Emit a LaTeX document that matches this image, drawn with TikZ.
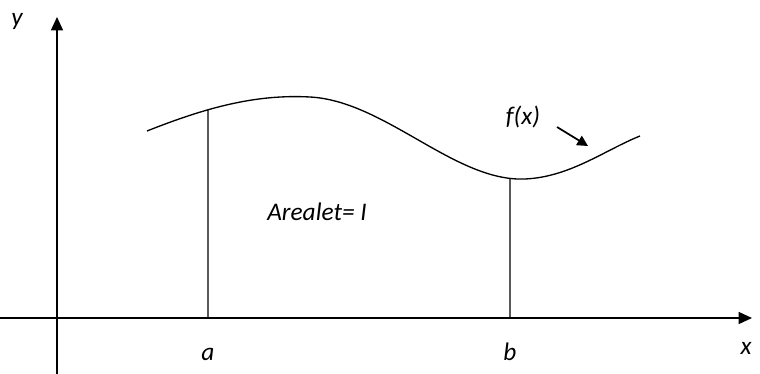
\documentclass[tikz,border=0pt]{standalone}
\usepackage{fontspec}
\setmainfont{Carlito}
\usetikzlibrary{arrows.meta,intersections}
\begin{document}
\begin{tikzpicture}[x=0.75pt,y=-0.75pt,
  axis/.style={line width=1pt,-{Triangle[length=10pt,width=9pt]}},
  lbl/.style={font=\itshape\fontsize{19}{22}\selectfont,inner sep=0pt},
  thin line/.style={line width=1pt}]
\useasboundingbox (0,0) rectangle (760,374);
% axes
\coordinate (xs) at (0,318);
\coordinate (xe) at (752,318);
\coordinate (ys) at (57,374);
\coordinate (ye) at (57,17);
\draw[axis] (xs) -- (xe);
\draw[axis] (ys) -- (ye);
% curve
\draw[thin line,name path=curve] (147,131) .. controls (205,108) and (255,94) .. (310,97)
  .. controls (385,101) and (455,182) .. (525,179)
  .. controls (570,177) and (605,150) .. (640,136);
% verticals
\path[name path=va] (208,0) -- (208,374);
\path[name path=vb] (510,0) -- (510,374);
\path[name intersections={of=curve and va,by=ta}];
\path[name intersections={of=curve and vb,by=tb}];
\coordinate (ba) at (208,318);
\coordinate (bb) at (510,318);
\draw[thin line] (ba) -- (ta);
\draw[thin line] (bb) -- (tb);
% labels
\node[lbl] (ylab) at (17,21) {y};
\node[lbl] (xlab) at (746,348) {x};
\node[lbl] (alab) at (208,354) {a};
\node[lbl] (blab) at (510,352) {b};
\node[lbl] (area) at (317,212) {Arealet= I};
\node[lbl] (fx) at (523,117) {f(x)};
\coordinate (arrs) at (557,127);
\coordinate (arre) at (588,146);
\draw[line width=1.3pt,-{Triangle[length=8pt,width=8pt]}] (arrs) -- (arre);
\end{tikzpicture}
\end{document}
